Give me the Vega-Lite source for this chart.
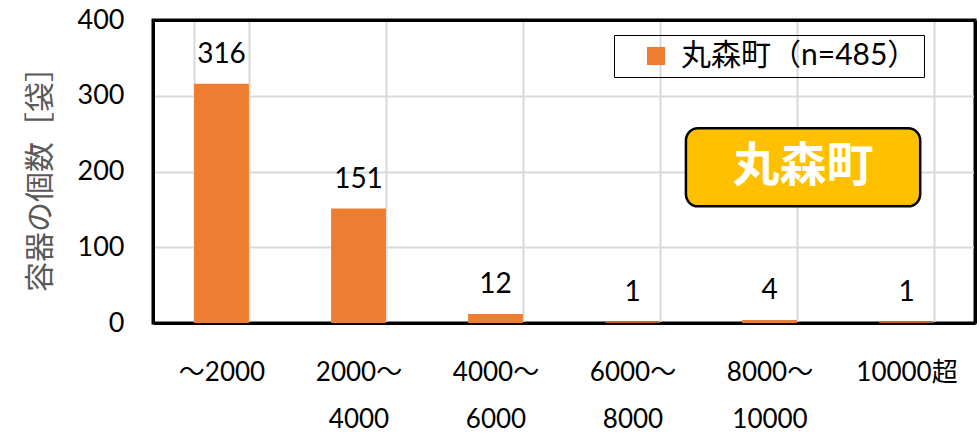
{
  "$schema": "https://vega.github.io/schema/vega-lite/v6.json",
  "width": 822,
  "height": 303,
  "autosize": {"type": "none"},
  "padding": {"left": 153, "top": 20, "right": 5, "bottom": 111},
  "background": "white",
  "config": {
    "font": "Lato, Noto Sans CJK JP",
    "view": {"stroke": "black", "strokeWidth": 3},
    "axis": {"labelFont": "Lato, Noto Sans CJK JP", "titleFont": "Noto Sans CJK JP"},
    "legend": {"labelFont": "Lato, Noto Sans CJK JP"}
  },
  "datasets": {
    "bars": [
      {"range": "～2000", "count": 316, "series": "丸森町（n=485）"},
      {"range": "2000～\n4000", "count": 151, "series": "丸森町（n=485）"},
      {"range": "4000～\n6000", "count": 12, "series": "丸森町（n=485）"},
      {"range": "6000～\n8000", "count": 1, "series": "丸森町（n=485）"},
      {"range": "8000～\n10000", "count": 4, "series": "丸森町（n=485）"},
      {"range": "10000超", "count": 1, "series": "丸森町（n=485）"}
    ],
    "badge": [
      {"x0": 3.89, "x1": 5.6, "y0": 154, "y1": 257, "xc": 4.745, "yc": 206, "label": "丸森町"}
    ]
  },
  "layer": [
    {
      "data": {"name": "bars"},
      "layer": [
        {
          "mark": {"type": "bar", "color": "#ED7D31"},
          "encoding": {
            "x": {
              "field": "range", "type": "nominal", "sort": null,
              "scale": {"paddingInner": 0.6, "paddingOuter": 0.3},
              "axis": {
                "title": null, "labelAngle": 0, "labelFontSize": 26, "labelColor": "black",
                "labelPadding": 36, "labelBaseline": "top", "labelLineHeight": 47,
                "labelExpr": "split(datum.label, '\\n')",
                "ticks": false, "domain": true, "domainColor": "black", "domainWidth": 3,
                "grid": true, "tickBand": "extent",
                "gridColor": "#D9D9D9", "gridWidth": 2
              }
            },
            "y": {
              "field": "count", "type": "quantitative",
              "scale": {"domain": [0, 400]},
              "axis": {
                "title": "容器の個数［袋］", "values": [0, 100, 200, 300, 400],
                "labelFontSize": 27, "labelColor": "black", "labelPadding": 29,
                "titleFontSize": 30, "titleFontWeight": "normal", "titleColor": "#595959", "titlePadding": 22,
                "ticks": false, "domain": true, "domainColor": "black", "domainWidth": 3,
                "grid": true, "gridColor": "#D9D9D9", "gridWidth": 2
              }
            },
            "color": {
              "field": "series", "type": "nominal",
              "scale": {"range": ["#ED7D31"]},
              "legend": {
                "title": null, "orient": "none", "legendX": 461, "legendY": 15,
                "strokeColor": "black", "padding": 6, "symbolType": "square",
                "symbolSize": 324, "symbolOffset": 21, "symbolStrokeWidth": 0,
                "labelFontSize": 30, "labelColor": "black", "labelOffset": 10, "labelLimit": 400
              }
            }
          }
        },
        {
          "mark": {"type": "text", "fontSize": 28, "baseline": "alphabetic", "dy": -21, "color": "black"},
          "encoding": {
            "x": {"field": "range", "type": "nominal", "sort": null},
            "y": {"field": "count", "type": "quantitative"},
            "text": {"field": "count", "type": "quantitative"}
          }
        }
      ]
    },
    {
      "data": {"name": "badge"},
      "layer": [
        {
          "mark": {"type": "rect", "fill": "#FFC000", "stroke": "black", "strokeWidth": 2.5, "cornerRadius": 12},
          "encoding": {
            "x": {
              "field": "x0", "type": "quantitative",
              "scale": {"domain": [0, 6], "nice": false, "zero": false},
              "axis": {"orient": "top", "title": null, "labels": false, "ticks": false, "grid": false, "domain": true, "domainColor": "black", "domainWidth": 3}
            },
            "x2": {"field": "x1"},
            "y": {
              "field": "y0", "type": "quantitative",
              "scale": {"domain": [0, 400], "nice": false},
              "axis": {"orient": "right", "title": null, "labels": false, "ticks": false, "grid": false, "domain": true, "domainColor": "black", "domainWidth": 3}
            },
            "y2": {"field": "y1"}
          }
        },
        {
          "mark": {"type": "text", "font": "Noto Sans CJK JP", "fontSize": 47, "fontWeight": "bold", "color": "white", "baseline": "middle", "align": "center"},
          "encoding": {
            "x": {"field": "xc", "type": "quantitative"},
            "y": {"field": "yc", "type": "quantitative"},
            "text": {"field": "label"}
          }
        }
      ]
    }
  ],
  "resolve": {"scale": {"x": "independent", "y": "independent"}}
}
